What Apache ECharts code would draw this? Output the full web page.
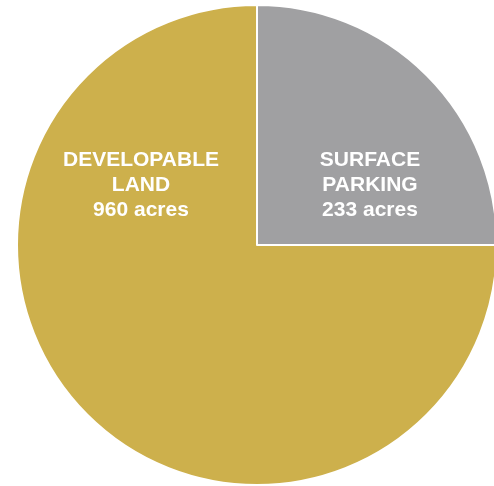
<!DOCTYPE html>
<html>
<head>
<meta charset="utf-8">
<script src="https://cdn.jsdelivr.net/npm/echarts@6/dist/echarts.min.js"></script>
<style>
  html, body { margin: 0; padding: 0; background: #fff; }
  #chart { width: 494px; height: 486px; }
</style>
</head>
<body>
<div id="chart"></div>
<script>
// slice names and the acres printed in the labels
const names = ['SURFACE\nPARKING', 'DEVELOPABLE\nLAND'];
const acres = [233, 960];
// share of the circle as drawn (the graphic shows a quarter / three quarters)
const shares = [25, 75];
const colors = ['#a0a0a2', '#cdb04c'];
// where each label block sits
const labelPos = [[370, 185], [141, 185]];

const myChart = echarts.init(document.getElementById('chart'));

const option = {
  animation: false,
  series: [{
    type: 'pie',
    center: [257, 245],
    radius: [0, 240],
    startAngle: 90,
    clockwise: true,
    silent: true,
    itemStyle: {
      borderColor: '#ffffff',
      borderWidth: 2
    },
    label: {
      show: true,
      position: 'inside',
      color: '#ffffff',
      fontFamily: 'Liberation Sans, Arial, sans-serif',
      fontWeight: 'bold',
      fontSize: 21,
      lineHeight: 25,
      align: 'center',
      formatter: function (p) {
        return p.name + '\n' + acres[p.dataIndex] + ' acres';
      }
    },
    labelLine: { show: false },
    labelLayout: function (params) {
      const pos = labelPos[params.dataIndex];
      return { x: pos[0], y: pos[1], align: 'center', verticalAlign: 'middle' };
    },
    data: names.map(function (n, i) {
      return { name: n, value: shares[i], itemStyle: { color: colors[i] } };
    })
  }]
};
myChart.setOption(option);
</script>
</body>
</html>
